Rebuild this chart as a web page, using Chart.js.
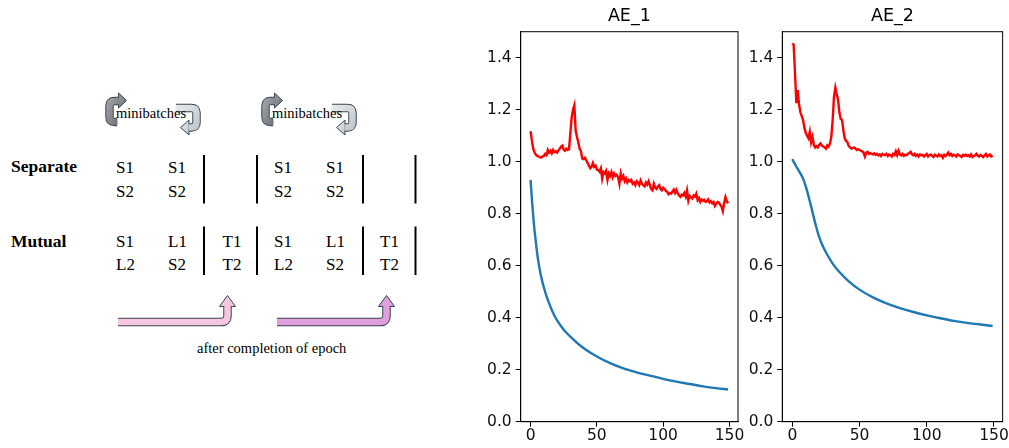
<!DOCTYPE html>
<html>
<head>
<meta charset="utf-8">
<script src="https://cdn.jsdelivr.net/npm/chart.js@4.4.0/dist/chart.umd.min.js"></script>
<style>
    html, body { margin: 0; padding: 0; background: #fff; }
    #page { position: relative; width: 1009px; height: 448px; overflow: hidden; }
    #diagram { position: absolute; left: 0; top: 0; }
    #chart1 { position: absolute; left: 470px; top: 0; }
    #chart2 { position: absolute; left: 745px; top: 0; }
    svg text { font-family: 'Liberation Serif', 'Times New Roman', serif; fill: #000; }
</style>
</head>
<body>
<div id="page">
<svg id="diagram" width="470" height="448" viewBox="0 0 470 448">
    <defs>
        <linearGradient id="darkGrey" x1="0" y1="0" x2="1" y2="1">
            <stop offset="0" stop-color="#9a9ea2"/>
            <stop offset="1" stop-color="#6e7378"/>
        </linearGradient>
        <linearGradient id="lightGrey" x1="0" y1="0" x2="1" y2="1">
            <stop offset="0" stop-color="#e4e7ea"/>
            <stop offset="1" stop-color="#c4c9cd"/>
        </linearGradient>
        <g id="cycle">
            <!-- left arrow: wraps round the left, head on top pointing right -->
            <path d="M 117 122 L 114.5 122 Q 109.5 122 109.5 117 L 109.5 106 Q 109.5 101 114.5 101 L 119 101" fill="none" stroke="#3b4650" stroke-width="8.5"/>
            <polygon points="118.5,93 126.5,100.5 118.5,108" fill="url(#darkGrey)" stroke="#3b4650" stroke-width="1"/>
            <path d="M 117.5 122 L 114.5 122 Q 109.5 122 109.5 117 L 109.5 106 Q 109.5 101 114.5 101 L 119.5 101" fill="none" stroke="url(#darkGrey)" stroke-width="6.5"/>
            <!-- right arrow: wraps round the right, head at bottom pointing left -->
            <path d="M 176 108 L 191.5 108 Q 196.5 108 196.5 113 L 196.5 122.5 Q 196.5 127.5 191.5 127.5 L 188 127.5" fill="none" stroke="#3b4650" stroke-width="8.5"/>
            <polygon points="189,120 180.5,127.5 189,135" fill="url(#lightGrey)" stroke="#3b4650" stroke-width="1"/>
            <path d="M 175.5 108 L 191.5 108 Q 196.5 108 196.5 113 L 196.5 122.5 Q 196.5 127.5 191.5 127.5 L 188.5 127.5" fill="none" stroke="url(#lightGrey)" stroke-width="6.5"/>
            <text x="116" y="117.5" font-size="14.5">minibatches</text>
        </g>
    </defs>

    <use href="#cycle"/>
    <use href="#cycle" transform="translate(156,0)"/>

    <text x="11" y="172" font-size="17.5" font-weight="bold">Separate</text>
    <text x="11" y="246.5" font-size="17.5" font-weight="bold">Mutual</text>

    <g font-size="17">
        <!-- Separate block -->
        <text x="116" y="173">S1</text>
        <text x="168" y="173">S1</text>
        <text x="116" y="196.5">S2</text>
        <text x="168" y="196.5">S2</text>
        <text x="274" y="173">S1</text>
        <text x="326" y="173">S1</text>
        <text x="274" y="196.5">S2</text>
        <text x="326" y="196.5">S2</text>

        <!-- Mutual block -->
        <text x="116" y="246.5">S1</text>
        <text x="168" y="246.5">L1</text>
        <text x="116" y="270">L2</text>
        <text x="168" y="270">S2</text>
        <text x="222.5" y="246.5">T1</text>
        <text x="222.5" y="270">T2</text>
        <text x="274" y="246.5">S1</text>
        <text x="326" y="246.5">L1</text>
        <text x="274" y="270">L2</text>
        <text x="326" y="270">S2</text>
        <text x="380" y="246.5">T1</text>
        <text x="380" y="270">T2</text>
    </g>

    <g stroke="#000" stroke-width="2">
        <line x1="204" y1="155" x2="204" y2="203.5"/>
        <line x1="257" y1="155" x2="257" y2="203.5"/>
        <line x1="363" y1="155" x2="363" y2="203.5"/>
        <line x1="415.5" y1="155" x2="415.5" y2="203.5"/>
        <line x1="204" y1="226.5" x2="204" y2="275"/>
        <line x1="257" y1="226.5" x2="257" y2="275"/>
        <line x1="363" y1="226.5" x2="363" y2="275"/>
        <line x1="415.5" y1="226.5" x2="415.5" y2="275"/>
    </g>

    <!-- epoch arrows -->
    <path d="M 118 322 L 221 322 Q 227.5 322 227.5 315.5 L 227.5 306" fill="none" stroke="#3b4650" stroke-width="8.5"/>
    <polygon points="219.5,306.5 227.5,295.5 235.5,306.5" fill="#f7c6e0" stroke="#3b4650" stroke-width="1"/>
    <path d="M 118 322 L 221 322 Q 227.5 322 227.5 315.5 L 227.5 306" fill="none" stroke="#f7c6e0" stroke-width="6.5"/>

    <path d="M 277 322 L 380 322 Q 386.5 322 386.5 315.5 L 386.5 306" fill="none" stroke="#3b4650" stroke-width="8.5"/>
    <polygon points="378.5,306.5 386.5,295.5 394.5,306.5" fill="#df9fdc" stroke="#3b4650" stroke-width="1"/>
    <path d="M 277 322 L 380 322 Q 386.5 322 386.5 315.5 L 386.5 306" fill="none" stroke="#df9fdc" stroke-width="6.5"/>

    <text x="197" y="352.5" font-size="14.5">after completion of epoch</text>
</svg>

<canvas id="chart1" width="275" height="448"></canvas>
<canvas id="chart2" width="264" height="448"></canvas>
</div>

<script>
// AE_1: red (noisy) curve, one value per epoch 0..149
const ae1Red = [
    1.117, 1.08, 1.05, 1.035, 1.027, 1.022, 1.02, 1.018, 1.016, 1.02,
    1.022, 1.03, 1.025, 1.045, 1.035, 1.042, 1.032, 1.045, 1.037, 1.04,
    1.035, 1.044, 1.05, 1.058, 1.062, 1.046, 1.042, 1.05, 1.045, 1.048,
    1.11, 1.17, 1.2, 1.217, 1.12, 1.095, 1.075, 1.05, 1.04, 1.012,
    1.01, 1.015, 1.005, 0.995, 0.985, 0.975, 0.98, 0.995, 0.98, 0.985,
    0.97, 0.968, 0.962, 0.975, 0.935, 0.96, 0.955, 0.965, 0.93, 0.955,
    0.945, 0.96, 0.94, 0.955, 0.945, 0.95, 0.94, 0.915, 0.955, 0.935,
    0.945, 0.925, 0.935, 0.92, 0.93, 0.925, 0.93, 0.915, 0.92, 0.91,
    0.925, 0.92, 0.91, 0.928, 0.915, 0.91, 0.905, 0.92, 0.912, 0.925,
    0.91, 0.895, 0.89, 0.915, 0.9, 0.895, 0.905, 0.91, 0.895, 0.89,
    0.9, 0.895, 0.888, 0.885, 0.875, 0.88, 0.877, 0.885, 0.893, 0.88,
    0.892, 0.878, 0.87, 0.865, 0.873, 0.87, 0.88, 0.866, 0.89, 0.85,
    0.868, 0.862, 0.858, 0.87, 0.866, 0.877, 0.852, 0.86, 0.845, 0.855,
    0.85, 0.853, 0.845, 0.848, 0.855, 0.843, 0.848, 0.84, 0.845, 0.83,
    0.838, 0.845, 0.843, 0.835, 0.828, 0.81, 0.84, 0.864, 0.848, 0.84
];
// AE_1: blue (smooth) curve, read at selected epochs
const ae1BlueX = [0, 1, 2, 3, 4, 5, 6, 7, 8, 9, 10, 12, 14, 17, 20, 25, 30, 36, 42, 50, 60, 70, 80, 90, 100, 110, 120, 130, 140, 149];
const ae1BlueY = [0.93, 0.855, 0.79, 0.735, 0.69, 0.647, 0.612, 0.582, 0.557, 0.536, 0.517, 0.483, 0.455, 0.418, 0.39, 0.354, 0.327, 0.299, 0.276, 0.251, 0.225, 0.205, 0.19, 0.177, 0.165, 0.154, 0.145, 0.136, 0.129, 0.124];

// AE_2
const ae2Red = [
    1.455, 1.45, 1.34, 1.225, 1.275, 1.22, 1.19, 1.175, 1.16, 1.13,
    1.11, 1.1, 1.09, 1.115, 1.075, 1.095, 1.065, 1.055, 1.06, 1.055,
    1.065, 1.07, 1.062, 1.058, 1.055, 1.05, 1.063, 1.058, 1.07, 1.095,
    1.16, 1.25, 1.285, 1.26, 1.24, 1.19, 1.165, 1.16, 1.12, 1.09,
    1.08, 1.075, 1.06, 1.055, 1.05, 1.052, 1.055, 1.05, 1.045, 1.048,
    1.045, 1.042, 1.04, 1.035, 1.02, 1.035, 1.038, 1.03, 1.033, 1.03,
    1.028, 1.032, 1.026, 1.03, 1.024, 1.028, 1.022, 1.03, 1.027, 1.025,
    1.03, 1.022, 1.028, 1.025, 1.02, 1.03, 1.026, 1.04, 1.025, 1.042,
    1.028, 1.024, 1.03, 1.022, 1.027, 1.025, 1.03, 1.034, 1.038, 1.028,
    1.025, 1.03, 1.022, 1.027, 1.02, 1.028, 1.024, 1.026, 1.02, 1.025,
    1.03, 1.02, 1.025, 1.028, 1.022, 1.018, 1.027, 1.023, 1.02, 1.028,
    1.022, 1.025, 1.015, 1.026, 1.022, 1.028, 1.035, 1.025, 1.03, 1.022,
    1.027, 1.024, 1.02, 1.028, 1.025, 1.022, 1.018, 1.026, 1.023, 1.027,
    1.022, 1.025, 1.02, 1.028, 1.018, 1.022, 1.025, 1.03, 1.023, 1.02,
    1.026, 1.022, 1.018, 1.025, 1.03, 1.02, 1.024, 1.028, 1.02, 1.024
];
const ae2BlueX = [0, 2, 4, 6, 8, 10, 12, 14, 16, 18, 20, 23, 26, 30, 35, 42, 50, 60, 70, 80, 90, 100, 110, 120, 130, 140, 149];
const ae2BlueY = [1.01, 0.99, 0.972, 0.955, 0.935, 0.905, 0.868, 0.828, 0.785, 0.745, 0.71, 0.672, 0.642, 0.608, 0.576, 0.54, 0.508, 0.478, 0.455, 0.437, 0.422, 0.409, 0.398, 0.388, 0.38, 0.374, 0.368];

const xTicks = [0, 50, 100, 150];
const yTicks = [0.0, 0.2, 0.4, 0.6, 0.8, 1.0, 1.2, 1.4];

Chart.defaults.font.family = "'DejaVu Sans', sans-serif";
Chart.defaults.color = '#000';

// draw the box round the plot area, like matplotlib spines
const framePlugin = {
    id: 'frame',
    afterDraw(chart) {
        const { ctx, chartArea: a } = chart;
        ctx.save();
        ctx.strokeStyle = '#000';
        ctx.lineWidth = 1;
        ctx.strokeRect(a.left, a.top, a.right - a.left, a.bottom - a.top);
        ctx.restore();
    }
};

function makeChart(canvasId, title, red, blueX, blueY, yWidth, padRight) {
    const ctx = document.getElementById(canvasId).getContext('2d');
    return new Chart(ctx, {
        type: 'line',
        data: {
            datasets: [
                {
                    label: 'blue',
                    data: blueX.map((x, i) => ({ x: x, y: blueY[i] })),
                    borderColor: '#1f77b4',
                    borderWidth: 2.4,
                    pointRadius: 0,
                    cubicInterpolationMode: 'monotone'
                },
                {
                    label: 'red',
                    data: red.map((v, i) => ({ x: i, y: v })),
                    borderColor: '#ff0000',
                    borderWidth: 2.4,
                    pointRadius: 0,
                    tension: 0
                }
            ]
        },
        options: {
            responsive: false,
            animation: false,
            layout: { padding: { left: 0, right: padRight, top: 0, bottom: 0 } },
            plugins: {
                legend: { display: false },
                tooltip: { enabled: false },
                title: {
                    display: true,
                    text: title,
                    fullSize: false,
                    color: '#000',
                    font: { size: 17.5, weight: 'normal' },
                    padding: { top: 6, bottom: 4.7 }
                }
            },
            scales: {
                x: {
                    type: 'linear',
                    min: -7.45,
                    max: 156.45,
                    afterBuildTicks: (scale) => { scale.ticks = xTicks.map(v => ({ value: v })); },
                    afterFit: (scale) => { scale.height = 26.3; },
                    grid: { drawOnChartArea: false, drawTicks: true, tickLength: 5, color: '#000' },
                    border: { display: true, color: '#000', width: 1 },
                    ticks: { font: { size: 15.5 }, color: '#111', padding: 0, maxRotation: 0, autoSkip: false }
                },
                y: {
                    min: 0,
                    max: 1.5,
                    afterBuildTicks: (scale) => { scale.ticks = yTicks.map(v => ({ value: v })); },
                    afterFit: (scale) => { scale.width = yWidth; },
                    grid: { drawOnChartArea: false, drawTicks: true, tickLength: 5, color: '#000' },
                    border: { display: true, color: '#000', width: 1 },
                    ticks: {
                        font: { size: 15.5 },
                        color: '#111',
                        padding: 4,
                        callback: (v) => Number(v).toFixed(1)
                    }
                }
            }
        },
        plugins: [framePlugin]
    });
}

makeChart('chart1', 'AE_1', ae1Red, ae1BlueX, ae1BlueY, 50.7, 7);
makeChart('chart2', 'AE_2', ae2Red, ae2BlueX, ae2BlueY, 37.3, 4.7);
</script>
</body>
</html>
